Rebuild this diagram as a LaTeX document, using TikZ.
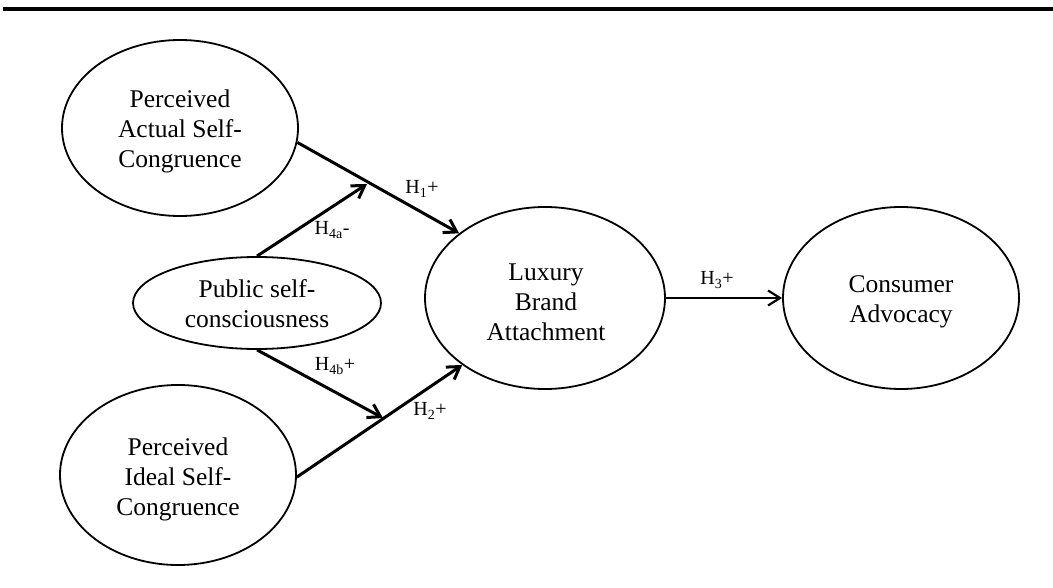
\documentclass[tikz,border=0pt]{standalone}
\usepackage{fontspec}
\setmainfont{Liberation Serif}
\usetikzlibrary{shapes.geometric,arrows.meta}
\begin{document}
\begin{tikzpicture}[x=1pt,y=-1pt,
  construct/.style={ellipse,draw,line width=1.8pt,inner sep=0pt},
  ctext/.style={inner sep=0pt,align=center,font=\fontsize{25.5}{30}\selectfont},
  hyp/.style={line width=3pt,-{Straight Barb[length=12pt,width=15pt]}},
  hypthin/.style={line width=2.2pt,-{Straight Barb[length=12pt,width=15pt]}},
  lbl/.style={inner sep=0pt,font=\fontsize{20}{22}\selectfont}]
\useasboundingbox (0,0) rectangle (1053,588);
\draw[line width=4pt] (3,9) -- (1053,9);
\node[construct,minimum width=236pt,minimum height=176pt] (act) at (180,128) {};
\node[construct,minimum width=236pt,minimum height=180pt] (ide) at (178,475) {};
\node[construct,minimum width=248pt,minimum height=92pt] (pub) at (257,303) {};
\node[construct,minimum width=240pt,minimum height=182pt] (lux) at (545,298) {};
\node[construct,minimum width=236pt,minimum height=182pt] (con) at (901,298) {};
\node[ctext] (actT) at (180,131) {Perceived\\Actual Self-\\Congruence};
\node[ctext] (ideT) at (178,479) {Perceived\\Ideal Self-\\Congruence};
\node[ctext] (pubT) at (257,304) {Public self-\\consciousness};
\node[ctext] (luxT) at (546,302) {Luxury\\Brand\\Attachment};
\node[ctext] (conT) at (901,302) {Consumer\\Advocacy};
\coordinate (m1) at (367,184);
\coordinate (m2) at (383,418);
\draw[hyp] (act.-7) -- (lux.143);
\draw[hyp] (ide.-1) -- (lux.-141);
\draw[hyp] (pub.north) -- (m1);
\draw[hyp] (pub.south) -- (m2);
\draw[hypthin] (lux.east) -- (con.west);
\node[lbl] (l1) at (422,189) {H\textsubscript{1}+};
\node[lbl] (l2) at (430,411) {H\textsubscript{2}+};
\node[lbl] (l3) at (717,280) {H\textsubscript{3}+};
\node[lbl] (l4a) at (332,230) {H\textsubscript{4a}-};
\node[lbl] (l4b) at (335,366) {H\textsubscript{4b}+};
\end{tikzpicture}
\end{document}
